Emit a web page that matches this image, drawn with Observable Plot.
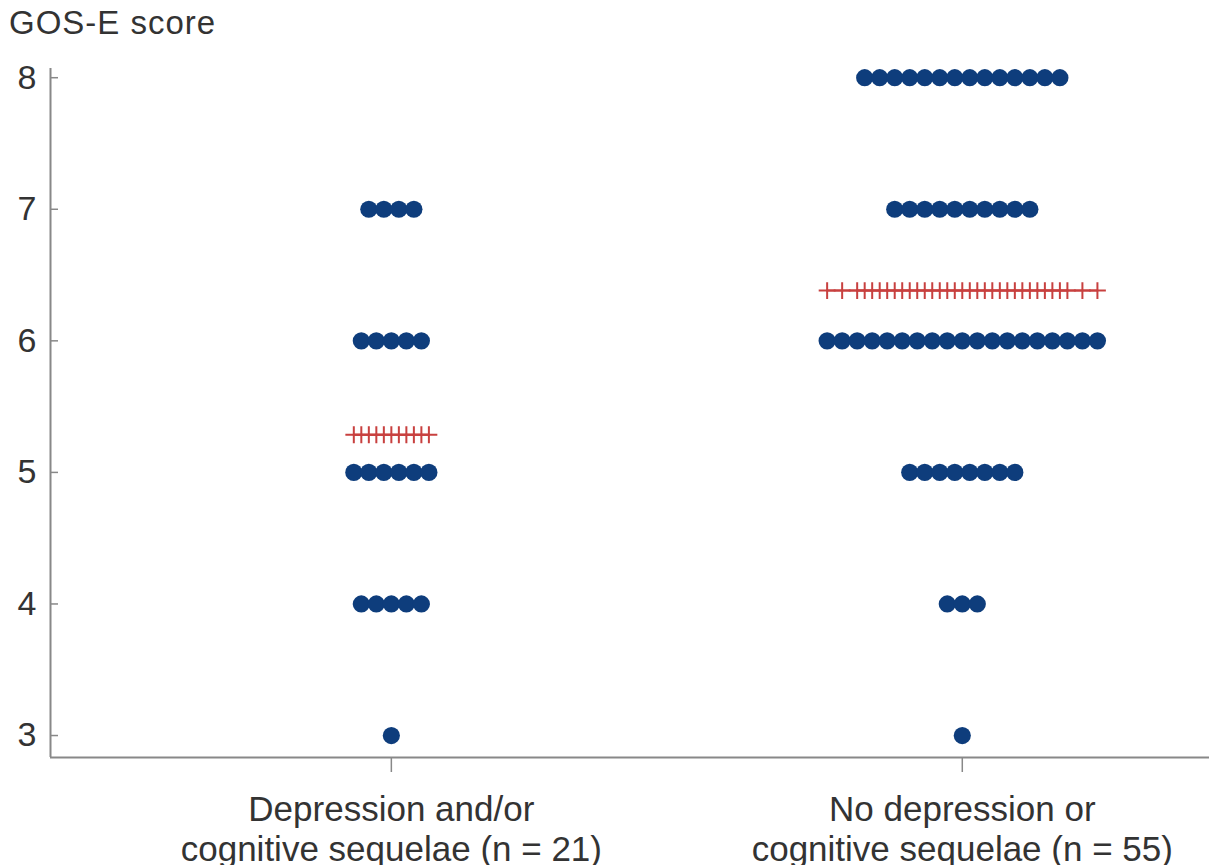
<!DOCTYPE html>
<html>
<head>
<meta charset="utf-8">
<script src="https://cdn.jsdelivr.net/npm/d3@7"></script>
<script src="https://cdn.jsdelivr.net/npm/@observablehq/plot@0.6"></script>
<style>
  body { margin: 0; background: #fff; }
  #wrap { position: relative; width: 1209px; height: 865px; overflow: hidden; font-family: "Liberation Sans", Arial, sans-serif; }
  #title { position: absolute; left: 9px; top: 4px; font-size: 33px; letter-spacing: 1px; color: #333; z-index: 2; line-height: 1.15; }
</style>
</head>
<body>
<div id="wrap"><div id="title">GOS-E score</div></div>
<script>
const groupLabels = ["Depression and/or\ncognitive sequelae (n = 21)", "No depression or\ncognitive sequelae (n = 55)"];
const scores = [8, 7, 6, 5, 4, 3];
const countsDepression = [0, 4, 5, 6, 5, 1];
const countsNoDepression = [14, 10, 19, 8, 3, 1];
const yTicks = [3, 4, 5, 6, 7, 8];

const step = 0.0263;           // horizontal spacing of stacked dots (x units)
const xDomain = [-0.597, 1.433];
const yDomain = [2.833, 8.07];

const groupCounts = [countsDepression, countsNoDepression];
const points = [];
groupCounts.forEach((counts, g) => {
  scores.forEach((s, k) => {
    const n = counts[k];
    for (let i = 0; i < n; i++) points.push({g, score: s, x: g + (i - (n - 1) / 2) * step});
  });
});
const means = groupCounts.map((counts, g) => {
  const n = d3.sum(counts);
  return d3.sum(counts, (c, k) => c * scores[k]) / n;
});
const pluses = [];
groupCounts.forEach((counts, g) => {
  const xs = Array.from(new Set(points.filter(p => p.g === g).map(p => p.x.toFixed(5)))).map(Number).sort((a, b) => a - b);
  xs.forEach(x => pluses.push({g, x, y: means[g]}));
});

const chart = Plot.plot({
  width: 1209,
  height: 865,
  marginLeft: 50,
  marginRight: 0,
  marginTop: 68,
  marginBottom: 108,
  style: {fontFamily: "Liberation Sans, Arial, sans-serif", color: "#333", background: "transparent", overflow: "visible"},
  x: {domain: xDomain, axis: null},
  y: {domain: yDomain, axis: null},
  marks: [
    Plot.axisY({ticks: yTicks, tickSize: -8, tickPadding: 0, stroke: "#888", strokeWidth: 1.5, tickFormat: () => "", label: null}),
    Plot.axisY({ticks: yTicks, tickSize: 0, tickPadding: 14, fontSize: 34, color: "#333", tickFormat: d3.format("d"), label: null}),
    Plot.axisX({ticks: [0, 1], tickSize: 15, tickPadding: 20, fontSize: 35, lineHeight: 1.14, stroke: "#888", strokeWidth: 1.5, color: "#333", tickFormat: d => groupLabels[d], label: null}),
    Plot.ruleX([xDomain[0]], {stroke: "#888", strokeWidth: 2}),
    Plot.ruleY([yDomain[0]], {stroke: "#888", strokeWidth: 2}),
    Plot.dot(points, {x: "x", y: "score", r: 8.6, fill: "#0e3d7c", stroke: "none"}),
    Plot.line(pluses, {x: "x", y: "y", z: "g", stroke: "#c8403f", strokeWidth: 2}),
    Plot.dot(pluses, {x: "x", y: "y", symbol: "plus", r: 5.5, stroke: "#c8403f", strokeWidth: 2})
  ]
});
document.getElementById("wrap").appendChild(chart);
chart.style.position = "absolute";
chart.style.left = "0";
chart.style.top = "0";
</script>
</body>
</html>
